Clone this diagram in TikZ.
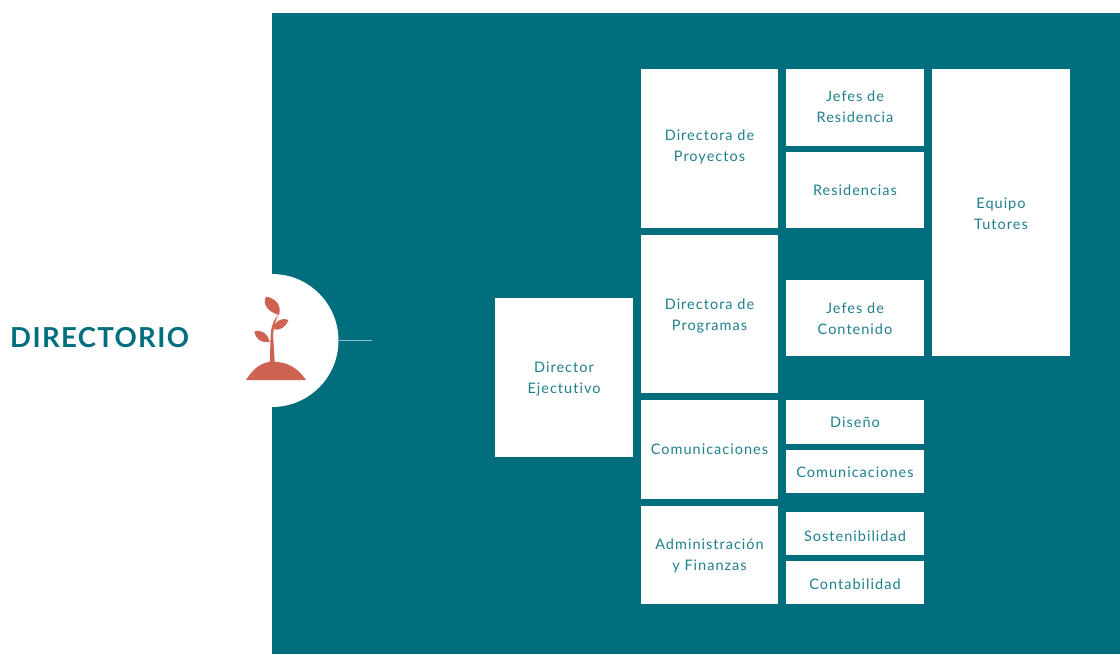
\documentclass[tikz,border=0pt]{standalone}
\usepackage{fontspec}
\setmainfont{Lato}
\newfontfamily\labelfont[LetterSpace=7,Ligatures=NoCommon]{Lato}
\newfontfamily\titlefont[LetterSpace=5,BoldFont={Lato Bold}]{Lato}
\definecolor{teal1}{HTML}{006E7D}
\definecolor{clay}{HTML}{CE6352}
\definecolor{stub}{HTML}{8CC3CA}
\tikzset{
  px/.style={x=1pt,y=-1pt},
  orgbox/.style={fill=white,draw=none,inner sep=0pt,text=teal1!88!white,align=center,font=\labelfont\fontsize{14.5}{21}\selectfont},
}
% name, left, top, right, bottom, vertical text offset, text
\newcommand{\orgnode}[7]{\node[orgbox,minimum width=#4 pt-#2 pt,minimum height=#5 pt-#3 pt] at ({(#2+#4)/2},{(#3+#5)/2}) (#1) {};
\node[orgbox,fill=none] at ({(#2+#4)/2},{(#3+#5)/2+#6}) (#1txt) {#7};}
\begin{document}
\begin{tikzpicture}[px]
\useasboundingbox (0,0) rectangle (1120,654);
\fill[white] (0,0) rectangle (1120,654);
\fill[teal1] (272,13) rectangle (1120,654);
\node[circle,fill=white,minimum size=133pt,inner sep=0pt] (badge) at (272,340.5) {};
\coordinate (stubend) at (372,340.5);
\draw[stub,line width=1.2pt] (badge.east) -- (stubend);
\node[text=teal1,font=\titlefont\bfseries\fontsize{27.5}{32}\selectfont,anchor=west,inner sep=0pt] (title) at (10,338) {DIRECTORIO};
% plant
\fill[clay] (246,380) .. controls (254,367) and (263,361.7) .. (273,361.7) .. controls (287,361.7) and (298,368) .. (306,380) -- cycle;
\fill[clay] (269.8,364) -- (270.6,336) .. controls (270.8,327) and (274,319) .. (278,315) .. controls (275.5,321) and (273.2,328) .. (273.2,336) -- (274.8,364) -- cycle;
\fill[clay] (279,315) .. controls (268,312) and (262,304) .. (266,296.7) .. controls (276,298) and (282,306) .. (279,315) -- cycle;
\fill[clay] (273,328.5) .. controls (274,322) and (281,317) .. (288.4,320) .. controls (286,327) and (279,332) .. (273,328.5) -- cycle;
\fill[clay] (269.6,341.8) .. controls (261,343.5) and (255,338) .. (254.3,331.7) .. controls (261,328.5) and (268,334) .. (269.6,341.8) -- cycle;
% boxes
\orgnode{ejec}{495}{298}{633}{457}{1.5}{Director\\Ejectutivo}
\orgnode{proy}{641}{69}{778}{228}{-1.5}{Directora de\\Proyectos}
\orgnode{prog}{641}{235}{778}{393}{1.5}{Directora de\\Programas}
\orgnode{comu}{641}{400}{778}{499}{0}{Comunicaciones}
\orgnode{admin}{641}{506}{778}{604}{1}{Administración\\y Finanzas}
\orgnode{jres}{786}{69}{924}{146}{-0.5}{Jefes de\\Residencia}
\orgnode{resi}{786}{152}{924}{228}{0.5}{Residencias}
\orgnode{jcon}{786}{280}{924}{356}{0.5}{Jefes de\\Contenido}
\orgnode{tuto}{932}{69}{1070}{356}{1}{Equipo\\Tutores}
\orgnode{dise}{786}{400}{924}{444}{0.5}{Diseño}
\orgnode{comb}{786}{450}{924}{493}{0.5}{Comunicaciones}
\orgnode{sost}{786}{512}{924}{555}{2.5}{Sostenibilidad}
\orgnode{cont}{786}{561}{924}{604}{1.5}{Contabilidad}
\end{tikzpicture}
\end{document}
